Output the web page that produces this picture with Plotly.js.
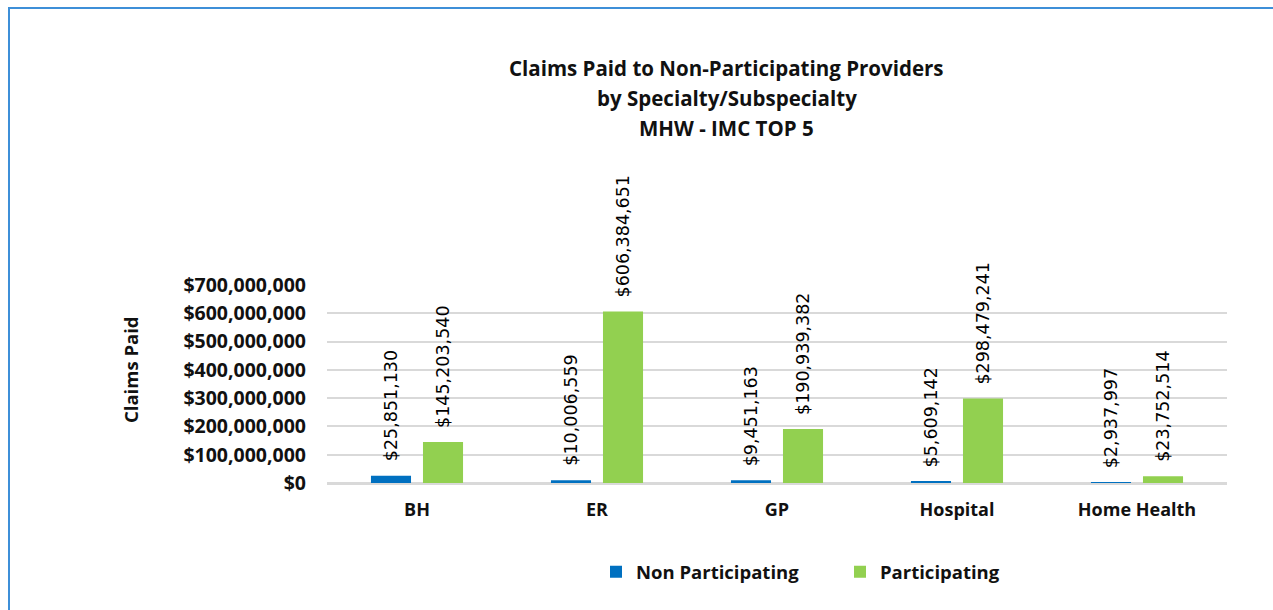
<!DOCTYPE html>
<html>
<head>
<meta charset="utf-8">
<script src="https://cdn.plot.ly/plotly-3.0.1.min.js"></script>
<style>
  body { margin: 0; background: #fff; }
  #frame { position: absolute; left: 8px; top: 7px; width: 1265px; height: 603px;
           border-top: 2px solid #3d8fd8; border-left: 2px solid #3d8fd8; }
  #chart { position: absolute; left: 0; top: 0; width: 1273px; height: 610px; }
</style>
</head>
<body>
<div id="frame"></div>
<div id="chart"></div>
<script>
// specialty categories and claims paid
var specialties = ["BH", "ER", "GP", "Hospital", "Home Health"];
var nonParticipating = [25851130, 10006559, 9451163, 5609142, 2937997];
var participating = [145203540, 606384651, 190939382, 298479241, 23752514];
var titleLines = ["Claims Paid to Non-Participating Providers", "by Specialty/Subspecialty", "MHW - IMC TOP 5"];

var fmt = v => "$" + v.toLocaleString("en-US");
var boldFont = size => ({ family: "Open Sans", size: size, color: "#111", weight: "bold" });

var trace1 = {
  x: specialties,
  y: nonParticipating,
  name: "Non Participating",
  type: "bar",
  marker: { color: "#0070c0" },
  hoverinfo: "x+y"
};
var trace2 = {
  x: specialties,
  y: participating,
  name: "Participating",
  type: "bar",
  marker: { color: "#92d050" },
  hoverinfo: "x+y"
};

// rotated value labels above each bar
var labels = [];
specialties.forEach((s, i) => {
  labels.push({ x: s, y: nonParticipating[i], xshift: -26, yshift: 12, text: fmt(nonParticipating[i]) });
  labels.push({ x: s, y: participating[i], xshift: 26, yshift: 12, text: fmt(participating[i]) });
});
labels = labels.map(a => Object.assign(a, {
  xref: "x", yref: "y", textangle: -90, yanchor: "bottom", xanchor: "center",
  showarrow: false, font: { family: "DejaVu Sans", size: 17.5, color: "#000" }
}));

// title lines, 30px apart
titleLines.forEach((t, i) => {
  labels.push({
    text: t, xref: "paper", yref: "paper", x: 0.444, xanchor: "center",
    y: (483 - (68 + 30 * i)) / 198, yanchor: "middle", showarrow: false, font: boldFont(20.5)
  });
});

// y axis title
labels.push({
  text: "Claims Paid", xref: "paper", yref: "paper", x: (130 - 327) / 900, xanchor: "center",
  y: (483 - 370) / 198, yanchor: "middle", textangle: -90, showarrow: false, font: boldFont(18.5)
});

var layout = {
  width: 1273,
  height: 610,
  paper_bgcolor: "rgba(0,0,0,0)",
  plot_bgcolor: "rgba(0,0,0,0)",
  margin: { l: 327, r: 46, t: 285, b: 127 },
  barmode: "group",
  bargap: 0.422,
  bargroupgap: 0.23,
  showlegend: true,
  legend: {
    orientation: "h", x: 0.57, xanchor: "center", y: -0.355, yanchor: "top",
    font: boldFont(18.5),
    itemwidth: 30, entrywidth: 199
  },
  xaxis: {
    tickfont: boldFont(18),
    showline: true, linecolor: "#d9d9d9", linewidth: 1.5,
    ticks: "", ticklabelstandoff: 10
  },
  yaxis: {
    range: [0, 700000000],
    dtick: 100000000,
    tickprefix: "$",
    tickformat: ",d",
    tickfont: boldFont(19.5),
    gridcolor: "#d9d9d9", gridwidth: 1.5,
    zeroline: true, zerolinecolor: "#d9d9d9", zerolinewidth: 1.5,
    ticklabelstandoff: 20
  },
  annotations: labels
};

Plotly.newPlot("chart", [trace1, trace2], layout, { displayModeBar: false });
</script>
</body>
</html>
